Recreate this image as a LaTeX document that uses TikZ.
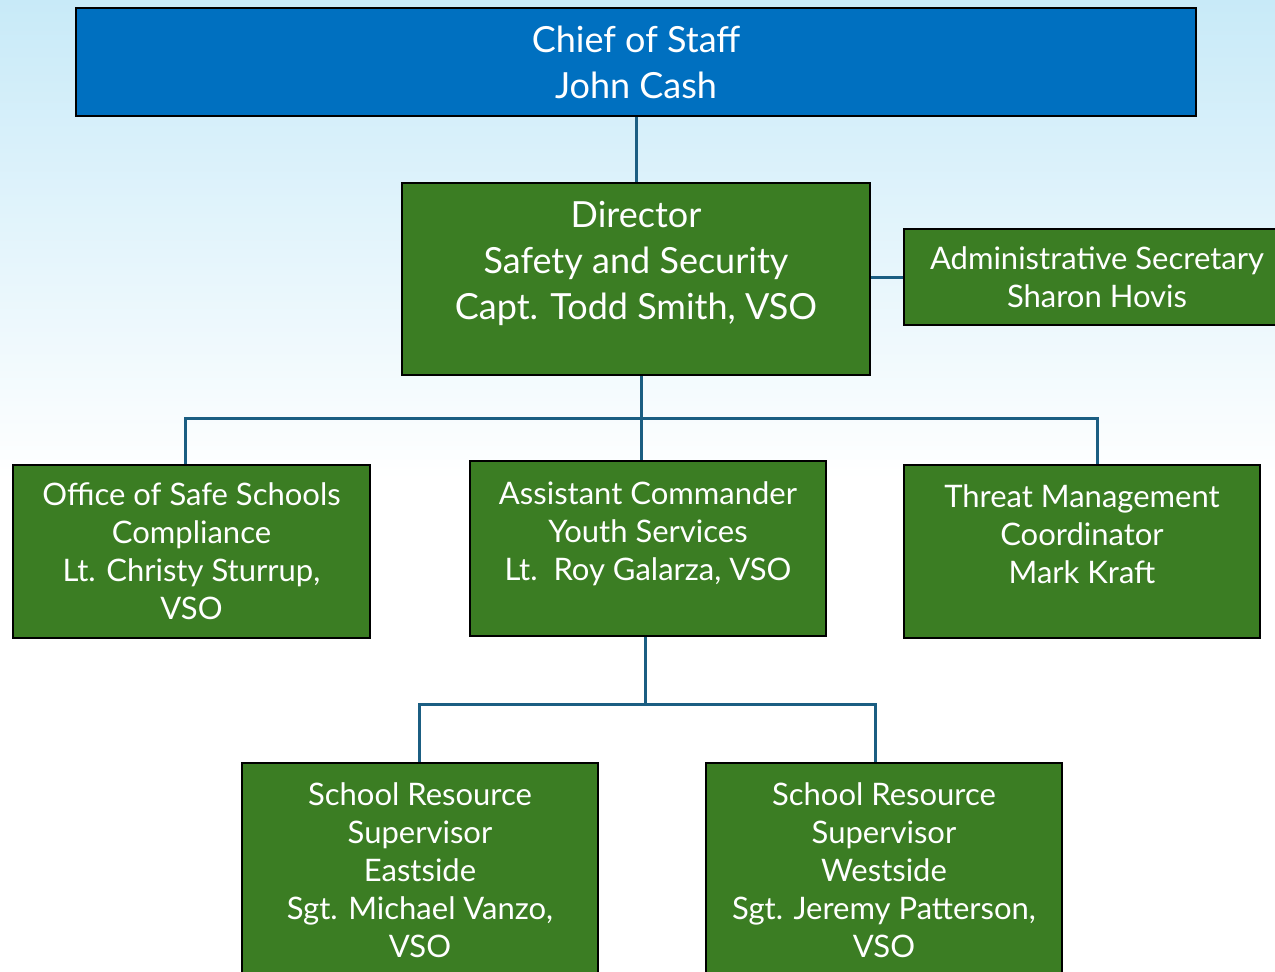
\documentclass[tikz,border=0pt]{standalone}
\usepackage{fontspec}
\setmainfont{Lato}
\usetikzlibrary{positioning,calc}
\definecolor{staffblue}{HTML}{0070C0}
\definecolor{unitgreen}{HTML}{3B7D23}
\definecolor{linkblue}{HTML}{1B5E82}
\definecolor{skyblue}{HTML}{C8EAF8}
\tikzset{
  % rutor
  box/.style={draw=black,line width=2.4pt,text=white,align=center,
              inner sep=0pt,font=\fontsize{31}{38}\selectfont},
  chief/.style={box,fill=staffblue,font=\fontsize{36}{46}\selectfont},
  unit/.style={box,fill=unitgreen},
  big/.style={font=\fontsize{36}{46}\selectfont},
  % linjer
  link/.style={draw=linkblue,line width=3pt},
}
\begin{document}
\begin{tikzpicture}[x=1pt,y=-1pt]
\useasboundingbox (0,0) rectangle (1275,972);
\clip (0,0) rectangle (1275,972);
\shade[top color=skyblue,bottom color=white] (0,0) rectangle (1275,480);
\fill[white] (0,480) rectangle (1275,972);
  \node[chief,minimum width=1120pt,minimum height=108pt] (cos) at (636,62)
    {Chief of Staff\\John Cash};
  \node[unit,big,minimum width=468pt,minimum height=192pt] (dir) at (636,279)
    {Director\\Safety and Security\\Capt. Todd Smith, VSO\\[-8pt]\mbox{}};
  \node[unit,minimum width=386pt,minimum height=96pt] (sec) at (1097,277)
    {Administrative Secretary\\Sharon Hovis};
  \node[unit,minimum width=357pt,minimum height=173pt] (oss) at (191.5,551.5)
    {Office of Safe Schools\\Compliance\\Lt. Christy Sturrup,\\VSO};
  \node[unit,minimum width=356pt,minimum height=175pt] (asst) at (648,548.5)
    {Assistant Commander\\Youth Services\\Lt.~~Roy Galarza, VSO\\[-4pt]\mbox{}};
  \node[unit,minimum width=356pt,minimum height=173pt] (tmc) at (1082,551.5)
    {Threat Management\\Coordinator\\Mark Kraft\\[-4pt]\mbox{}};
  \node[unit,minimum width=356pt,minimum height=215pt] (east) at (420,870.5)
    {School Resource\\Supervisor\\Eastside\\Sgt. Michael Vanzo,\\VSO};
  \node[unit,minimum width=356pt,minimum height=215pt] (west) at (884,870.5)
    {School Resource\\Supervisor\\Westside\\Sgt. Jeremy Patterson,\\VSO};
  \coordinate (j1) at (641,418);
  \coordinate (bl) at (185,418);
  \coordinate (br) at (1097,418);
  \coordinate (j2) at (645,704);
  \coordinate (el) at (419,704);
  \coordinate (wr) at (875,704);
  \draw[link] (cos) -- (dir);
  \draw[link] (sec.west -| dir.east) -- (sec.west);
  \draw[link] (dir.south -| j1) -- (asst.north -| j1);
  \draw[link] (oss.north -| bl) -- (bl) -- (br) -- (tmc.north -| br);
  \draw[link] (asst.south -| j2) -- (j2);
  \draw[link] (east.north -| el) -- (el) -- (wr) -- (west.north -| wr);
\end{tikzpicture}
\end{document}
